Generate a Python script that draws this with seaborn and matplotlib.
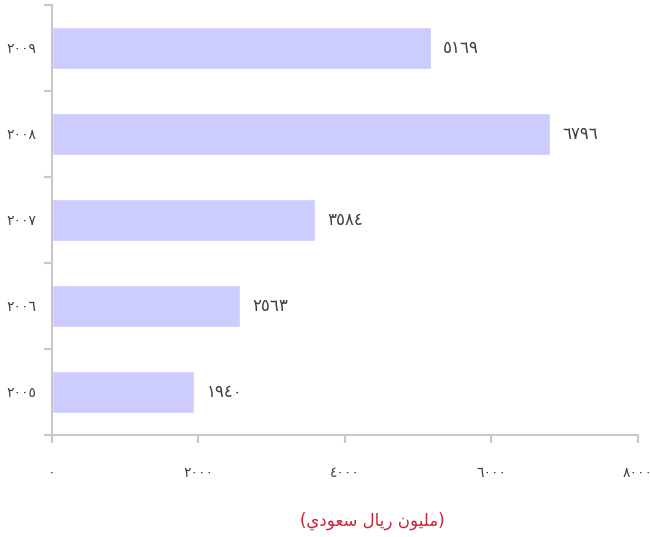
import pandas as pd
import seaborn as sns
import matplotlib.pyplot as plt

# values in million SAR, top bar first
years = ["٢٠٠٩", "٢٠٠٨", "٢٠٠٧", "٢٠٠٦", "٢٠٠٥"]
values = [5169, 6796, 3584, 2563, 1940]
x_ticks = [0, 2000, 4000, 6000, 8000]
unit_label = "(مليون ريال سعودي)"

AR_DIGITS = str.maketrans("0123456789", "٠١٢٣٤٥٦٧٨٩")

# tiny Arabic shaper: matplotlib draws glyphs one by one, left to right
FORMS = {  # isolated, final, initial, medial
    "ا": ("\ufe8d", "\ufe8e", None, None),
    "د": ("\ufea9", "\ufeaa", None, None),
    "ر": ("\ufead", "\ufeae", None, None),
    "و": ("\ufeed", "\ufeee", None, None),
    "س": ("\ufeb1", "\ufeb2", "\ufeb3", "\ufeb4"),
    "ع": ("\ufec9", "\ufeca", "\ufecb", "\ufecc"),
    "ل": ("\ufedd", "\ufede", "\ufedf", "\ufee0"),
    "م": ("\ufee1", "\ufee2", "\ufee3", "\ufee4"),
    "ن": ("\ufee5", "\ufee6", "\ufee7", "\ufee8"),
    "ي": ("\ufef1", "\ufef2", "\ufef3", "\ufef4"),
}


def shape_ar(text):
    out = []
    for i, ch in enumerate(text):
        if ch not in FORMS:
            out.append(ch)
            continue
        prev = text[i - 1] if i > 0 else ""
        nxt = text[i + 1] if i + 1 < len(text) else ""
        join_prev = prev in FORMS and FORMS[prev][2] is not None
        join_next = nxt in FORMS and FORMS[ch][2] is not None
        iso, fin, ini, med = FORMS[ch]
        if join_prev and join_next:
            out.append(med)
        elif join_prev:
            out.append(fin)
        elif join_next:
            out.append(ini)
        else:
            out.append(iso)
    vis = "".join(out)[::-1]
    return vis.translate(str.maketrans("()", ")("))


df = pd.DataFrame({"year": years, "value": values})

sns.set_theme(style="white")
plt.rcParams["font.family"] = ["DejaVu Sans"]

fig = plt.figure(figsize=(6.5, 5.37), dpi=100)
ax = fig.add_axes([0.08, 0.19, 0.9015, 0.8007])

sns.barplot(data=df, x="value", y="year", order=years, orient="h",
            color="#ccccff", saturation=1, width=0.48, ax=ax)

ax.set_xlim(0, 8000)
ax.set_ylim(len(years) - 0.5, -0.5)
ax.set_xticks(x_ticks)
ax.set_xticklabels([str(t).translate(AR_DIGITS) for t in x_ticks])
ax.set_yticks(range(len(years)))
ax.set_yticklabels(years)
ax.set_yticks([i - 0.5 for i in range(len(years) + 1)], minor=True)
ax.tick_params(axis="y", which="major", length=0, pad=11, labelsize=10, labelcolor="#404040")
ax.tick_params(axis="y", which="minor", length=6, width=1.5, color="#c8c8c8", left=True)
ax.tick_params(axis="x", length=6, width=1.5, color="#c8c8c8", bottom=True, pad=16,
               labelsize=10, labelcolor="#404040")
ax.set_xlabel("")
ax.set_ylabel("")

for side in ["top", "right"]:
    ax.spines[side].set_visible(False)
for side in ["left", "bottom"]:
    ax.spines[side].set_color("#c8c8c8")
    ax.spines[side].set_linewidth(1.5)

for i, v in enumerate(values):
    ax.annotate(str(v).translate(AR_DIGITS), (v, i), xytext=(9, 0),
                textcoords="offset points", va="center", ha="left",
                fontsize=12, color="#404040")

fig.text(372 / 650, 1 - 521 / 537, shape_ar(unit_label), ha="center", va="center",
         fontsize=12, color="#cc2233")

fig.savefig("out.png", dpi=100)
